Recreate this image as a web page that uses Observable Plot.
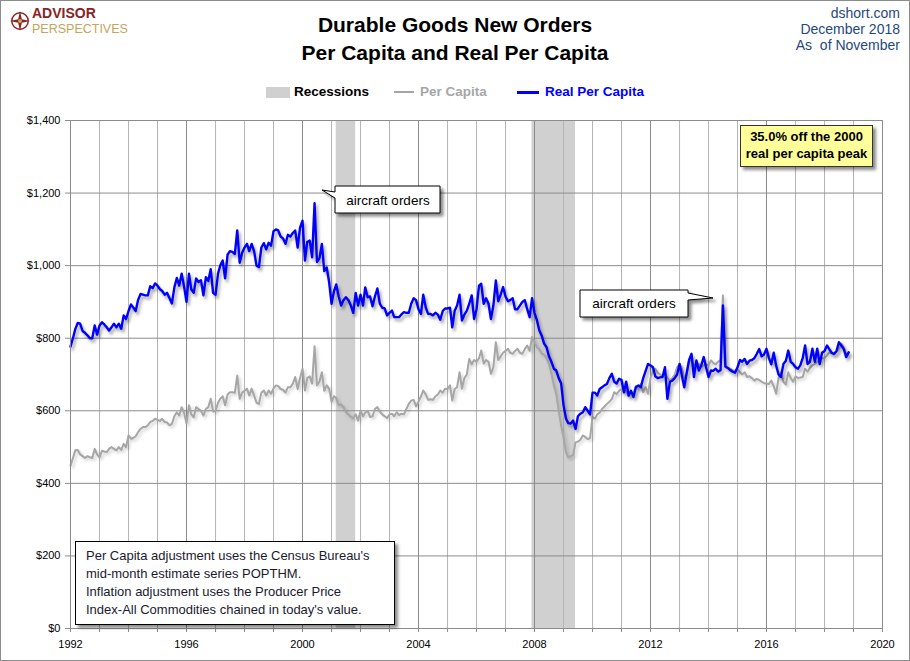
<!DOCTYPE html>
<html><head><meta charset="utf-8">
<script src="https://cdn.jsdelivr.net/npm/d3@7"></script>
<script src="https://cdn.jsdelivr.net/npm/@observablehq/plot@0.6"></script>
<style>
body{margin:0;background:#fff;}
#wrap{position:relative;width:910px;height:661px;overflow:hidden;background:#fff;font-family:"Liberation Sans",Arial,sans-serif;}
.abs{position:absolute;}
.narrow{font-family:"Liberation Sans Narrow","Liberation Sans",Arial,sans-serif;}
#title{left:0;top:11px;width:910px;text-align:center;font-weight:bold;font-size:21px;line-height:28px;color:#000;}
#src{right:10px;top:5px;text-align:right;font-size:14px;line-height:16px;color:#1F497D;}
.leg{top:84px;font-weight:bold;font-size:13.5px;line-height:16px;}
#note{left:75px;top:541px;width:298px;height:72px;border:1px solid #000;background:#fff;box-shadow:3px 3px 3px rgba(0,0,0,0.45);padding:5px 10px;font-size:13px;line-height:18px;color:#1a1a2e;}
#peak{left:740px;top:125px;width:131px;height:38px;border:1px solid #333;background:#FFFF99;box-shadow:3px 3px 3px rgba(0,0,0,0.45);text-align:center;font-weight:bold;font-size:13px;line-height:17px;padding-top:2px;color:#000;}
#frame{left:0;top:0;width:908px;height:659px;border:1px solid #8c8c8c;pointer-events:none;}
</style></head>
<body><div id="wrap">
<div id="title" class="abs narrow">Durable Goods New Orders<br>Per Capita and Real Per Capita</div>
<div id="src" class="abs narrow">dshort.com<br>December 2018<br>As&nbsp; of November</div>
<svg class="abs" style="left:9px;top:10px" width="22" height="22" viewBox="0 0 24 24">
  <circle cx="12" cy="12" r="9" fill="none" stroke="#8B2323" stroke-width="1.6"/>
  <path d="M12 1 L14 10 L23 12 L14 14 L12 23 L10 14 L1 12 L10 10 Z" fill="#8B2323"/>
  <circle cx="12" cy="12" r="2.2" fill="#C5A55A"/>
</svg>
<div class="abs narrow" style="left:32px;top:6px;font-weight:bold;font-size:14px;line-height:14px;color:#8B2323;">ADVISOR</div>
<div class="abs narrow" style="left:32px;top:23px;font-size:12.5px;line-height:12px;color:#C5A55A;">PERSPECTIVES</div>

<div class="abs" style="left:266px;top:87px;width:24px;height:11px;background:#d0d0d0;"></div>
<div class="abs leg narrow" style="left:294px;color:#000;">Recessions</div>
<div class="abs" style="left:394px;top:91px;width:20px;height:2px;background:#a6a6a6;"></div>
<div class="abs leg narrow" style="left:420px;color:#a6a6a6;">Per Capita</div>
<div class="abs" style="left:517px;top:91px;width:22px;height:3px;background:#0000ff;"></div>
<div class="abs leg narrow" style="left:545px;color:#0000ff;">Real Per Capita</div>
</div>
<script>
// ---- data (monthly, Jan 1992 - Nov 2018), dollars per capita ----
const startYear = 1992;
const real1990s = [
  777, 800, 825, 842, 840, 820, 815, 808, 800, 800, 835, 810,
  835, 844, 838, 830, 821, 830, 840, 830, 840, 826, 863, 853,
  875, 893, 885, 875, 905, 922, 920, 918, 918, 943, 938, 951,
  945, 935, 930, 920, 925, 910, 896, 940, 966, 945, 978, 943,
  900, 978, 935, 925, 965, 955, 960, 918, 968, 958, 990, 925,
  920, 978, 1000, 1014, 965, 1030, 1040, 1038, 1032, 1097, 1008, 1035,
  1050, 1060, 1040, 1060, 1040, 1000, 996, 1050, 1062, 1045, 1063, 1055,
  1095, 1100, 1097, 1080, 1075, 1060, 1085, 1080, 1090, 1097, 1050, 1105
];
const real2000s = [
  1124, 1014, 1065, 1069, 1023, 1172, 1010, 1020, 1060, 985, 995, 955,
  895, 930, 948, 915, 890, 905, 913, 905, 890, 870, 925, 890,
  920, 890, 940, 913, 915, 888, 915, 937, 895, 884, 882, 863,
  870, 876, 858, 858, 858, 866, 872, 870, 870, 895, 910, 905,
  880, 867, 920, 885, 867, 867, 863, 870, 865, 851, 875, 882,
  882, 884, 830, 876, 890, 920, 849, 865, 876, 895, 918, 853,
  880, 945, 950, 895, 910, 895, 853, 890, 959, 902, 920, 941,
  915, 902, 905, 910, 880, 880, 890, 900, 905, 880, 858, 910,
  870, 849, 822, 807, 785, 775, 750, 735, 716, 711, 690, 676,
  615, 578, 566, 565, 573, 550, 585, 592, 596, 610, 600, 590
];
const real2010s = [
  650, 650, 642, 660, 665, 670, 674, 690, 702, 680, 675, 688,
  685, 651, 680, 642, 655, 638, 665, 670, 665, 690, 710, 729,
  725, 720, 695, 690, 692, 693, 720, 633, 680, 683, 690, 700,
  729, 695, 665, 705, 740, 757, 693, 739, 711, 725, 748, 720,
  693, 711, 710, 716, 708, 712, 890, 722, 718, 712, 708, 705,
  720, 740, 735, 743, 729, 738, 740, 745, 757, 770, 750, 755,
  771, 745, 728, 760, 725, 700, 693, 729, 738, 766, 735, 729,
  720, 716, 725, 745, 780, 729, 735, 771, 735, 771, 729, 760,
  765, 780, 770, 760, 757, 765, 789, 780, 770, 748, 761
];
const perCap1990s = [
  449, 470, 491, 492, 480, 475, 470, 475, 472, 470, 495, 480,
  472, 490, 488, 486, 495, 500, 495, 491, 500, 492, 509, 500,
  532, 523, 525, 530, 541, 550, 555, 555, 560, 569, 572, 578,
  575, 572, 578, 569, 568, 560, 564, 585, 596, 587, 610, 595,
  565, 615, 590, 582, 610, 605, 600, 587, 605, 610, 633, 598,
  600, 622, 633, 640, 615, 645, 651, 651, 650, 697, 633, 650,
  655, 661, 642, 661, 642, 622, 619, 650, 656, 642, 656, 647,
  662, 670, 668, 660, 658, 650, 665, 665, 675, 693, 660, 690
];
const perCap2000s = [
  716, 656, 690, 695, 675, 778, 670, 680, 706, 655, 670, 661,
  625, 640, 635, 615, 618, 610, 596, 590, 583, 580, 590, 573,
  600, 585, 595, 600, 583, 585, 605, 610, 598, 590, 585, 580,
  590, 592, 585, 596, 588, 592, 590, 605, 619, 628, 630, 612,
  625, 640, 656, 645, 630, 632, 630, 640, 645, 656, 650, 661,
  660, 670, 628, 660, 665, 706, 661, 690, 700, 743, 728, 740,
  735, 745, 766, 730, 740, 735, 702, 720, 789, 740, 750, 760,
  765, 771, 760, 757, 765, 771, 760, 757, 770, 780, 765, 803,
  790, 775, 770, 757, 755, 745, 729, 702, 670, 647, 601, 560,
  527, 486, 472, 475, 478, 513, 515, 520, 532, 528, 522, 525
];
const perCap2010s = [
  583, 578, 590, 595, 605, 612, 619, 625, 632, 651, 646, 655,
  660, 650, 655, 640, 650, 648, 668, 660, 674, 651, 665, 647,
  690, 710, 716, 705, 700, 695, 702, 690, 683, 690, 700, 720,
  729, 715, 690, 700, 740, 735, 725, 730, 729, 720, 725, 728,
  725, 739, 732, 728, 735, 740, 918, 720, 718, 716, 712, 711,
  715, 706, 700, 706, 693, 695, 690, 683, 688, 685, 680, 676,
  675, 674, 683, 668, 647, 690, 706, 680, 672, 706, 690, 680,
  695, 690, 692, 693, 716, 708, 718, 725, 729, 735, 740, 745,
  745, 752, 760, 758, 755, 762, 770, 785, 775, 755, 760
];
const recessionStarts = ["2001-03-01", "2007-12-01"];
const recessionEnds   = ["2001-11-01", "2009-06-01"];
const xLabelYears = [1992, 1996, 2000, 2004, 2008, 2012, 2016, 2020];
const yTicks = [0, 200, 400, 600, 800, 1000, 1200, 1400];

// ---- build tables ----
const realAll = [...real1990s, ...real2000s, ...real2010s];
const perCapAll = [...perCap1990s, ...perCap2000s, ...perCap2010s];
const series = realAll.map((v, i) => ({
  date: new Date(Date.UTC(startYear, i, 1)),
  real: v,
  perCapita: perCapAll[i]
}));
const recessions = recessionStarts.map((s, i) => ({start: new Date(s + "T00:00:00Z"), end: new Date(recessionEnds[i] + "T00:00:00Z")}));
const yr = y => new Date(Date.UTC(y, 0, 1));
const allYears = d3.range(xLabelYears[0], xLabelYears[xLabelYears.length - 1] + 1).map(yr);
const labelDates = xLabelYears.map(yr);

const chart = Plot.plot({
  width: 910, height: 661,
  marginLeft: 70, marginRight: 28, marginTop: 120, marginBottom: 33,
  style: {fontFamily: '"Liberation Sans", Arial, sans-serif', fontSize: "11px", color: "#000", background: "transparent"},
  x: {type: "utc", domain: [labelDates[0], labelDates[labelDates.length - 1]]},
  y: {domain: [0, 1400]},
  marks: [
    Plot.rect(recessions, {x1: "start", x2: "end", fill: "#d0d0d0"}),
    Plot.gridX(allYears, {stroke: "#b4b4b4", strokeOpacity: 1}),
    Plot.gridX(labelDates, {stroke: "#8c8c8c", strokeOpacity: 1}),
    Plot.gridY(yTicks, {stroke: "#8c8c8c", strokeOpacity: 1}),
    Plot.lineY(series, {x: "date", y: "perCapita", stroke: "#a6a6a6", strokeWidth: 2}),
    Plot.lineY(series, {x: "date", y: "real", stroke: "#0000ff", strokeWidth: 2.4}),
    Plot.frame({stroke: "#8c8c8c"}),
    Plot.axisX(allYears, {tickSize: 4, tickFormat: () => "", stroke: "#8c8c8c", label: null}),
    Plot.axisX(labelDates, {tickSize: 0, tickPadding: 12, tickFormat: d3.utcFormat("%Y"), label: null}),
    Plot.axisY(yTicks, {tickSize: 5, tickPadding: 5, stroke: "#8c8c8c", tickFormat: d => "$" + d3.format(",")(d), label: null})
  ]
});
chart.style.position = "absolute";
chart.style.left = "0px";
chart.style.top = "0px";
const lines = d3.select(chart).selectAll('g[aria-label="line"]');
lines.each(function(d, i) {
  d3.select(this).style("filter", i === 0
    ? "drop-shadow(2px 2px 1.5px rgba(0,0,0,0.18))"
    : "drop-shadow(2px 3px 1.5px rgba(0,0,0,0.35))");
});
const wrap = document.getElementById("wrap");
wrap.appendChild(chart);

// callouts overlay
const ov = d3.select(wrap).append("svg").attr("class", "abs").style("left", "0px").style("top", "0px")
  .attr("width", 910).attr("height", 661);
ov.append("defs").append("filter").attr("id", "sh").attr("x", "-10%").attr("y", "-10%").attr("width", "130%").attr("height", "140%")
  .append("feDropShadow").attr("dx", 3).attr("dy", 3).attr("stdDeviation", 1.5).attr("flood-opacity", 0.45);
ov.append("path").attr("d", "M335,186 H440 V213 H335 V198 L322,190 L335,192 Z")
  .attr("fill", "#fff").attr("stroke", "#000").attr("filter", "url(#sh)");
ov.append("text").attr("x", 388).attr("y", 204.5).attr("text-anchor", "middle")
  .style("font", '13.5px "Liberation Sans", Arial, sans-serif').text("aircraft orders");
ov.append("path").attr("d", "M580,290 H688 V293 L713,298 L688,300 V317 H580 Z")
  .attr("fill", "#fff").attr("stroke", "#000").attr("filter", "url(#sh)");
ov.append("text").attr("x", 634).attr("y", 308).attr("text-anchor", "middle")
  .style("font", '13.5px "Liberation Sans", Arial, sans-serif').text("aircraft orders");

const note = document.createElement("div");
note.id = "note"; note.className = "abs";
note.innerHTML = "Per Capita adjustment uses the Census Bureau's<br>mid-month estimate series POPTHM.<br>Inflation adjustment uses the Producer Price<br>Index-All Commodities chained in today's value.";
wrap.appendChild(note);
const peak = document.createElement("div");
peak.id = "peak"; peak.className = "abs";
peak.innerHTML = "35.0% off the 2000<br>real per capita peak";
wrap.appendChild(peak);
const fr = document.createElement("div");
fr.id = "frame"; fr.className = "abs";
wrap.appendChild(fr);
</script>
</body></html>
